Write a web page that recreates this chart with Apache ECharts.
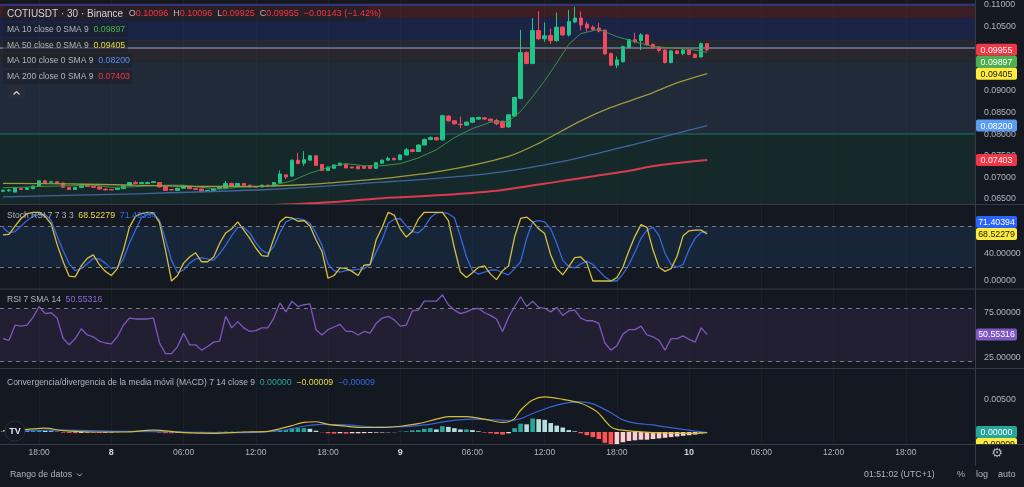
<!DOCTYPE html>
<html>
<head>
<meta charset="utf-8">
<title>COTIUSDT 30 Binance</title>
<script src="https://cdn.jsdelivr.net/npm/echarts@6.0.0/dist/echarts.min.js"></script>
<style>
html,body{margin:0;padding:0;background:#141820;overflow:hidden}
#chart{width:1024px;height:487px}
</style>
</head>
<body>
<div id="chart"></div>
<script>
// ================= DATA =================
const symbolTitle = 'COTIUSDT · 30 · Binance';
const firstSlot = { day: 7, hour: 15 };   // first 30-minute slot on the time axis
const slotCount = 162;                     // slots visible (incl. empty space on the right)

// [open, high, low, close] per 30-min candle
const candles = [
[0.0668,0.0672,0.0666,0.0670],[0.0669,0.0673,0.0667,0.0671],[0.0666,0.0677,0.0665,0.0676],[0.0674,0.0676,0.0671,0.0672],
[0.0672,0.0677,0.0671,0.0676],[0.0674,0.0681,0.0673,0.0680],[0.0679,0.0693,0.0678,0.0692],[0.0692,0.0694,0.0686,0.0687],
[0.0689,0.0691,0.0688,0.0690],[0.0690,0.0691,0.0685,0.0686],[0.0687,0.0688,0.0676,0.0677],[0.0677,0.0678,0.0671,0.0672],
[0.0672,0.0678,0.0671,0.0677],[0.0677,0.0684,0.0676,0.0683],[0.0683,0.0685,0.0678,0.0679],[0.0679,0.0680,0.0676,0.0677],
[0.0678,0.0679,0.0672,0.0673],[0.0673,0.0674,0.0670,0.0671],[0.0672,0.0673,0.0670,0.0671],[0.0672,0.0676,0.0671,0.0675],
[0.0674,0.0682,0.0673,0.0681],[0.0681,0.0689,0.0680,0.0688],[0.0688,0.0692,0.0685,0.0686],[0.0686,0.0690,0.0685,0.0688],
[0.0686,0.0690,0.0685,0.0688],[0.0688,0.0692,0.0687,0.0690],[0.0688,0.0689,0.0677,0.0678],[0.0679,0.0680,0.0669,0.0670],
[0.0672,0.0673,0.0670,0.0671],[0.0670,0.0676,0.0669,0.0675],[0.0675,0.0682,0.0674,0.0681],[0.0679,0.0680,0.0673,0.0674],
[0.0674,0.0675,0.0671,0.0672],[0.0673,0.0674,0.0666,0.0667],[0.0668,0.0671,0.0667,0.0670],[0.0670,0.0675,0.0669,0.0674],
[0.0674,0.0678,0.0673,0.0677],[0.0674,0.0692,0.0673,0.0686],[0.0686,0.0688,0.0678,0.0679],[0.0679,0.0687,0.0678,0.0686],
[0.0686,0.0687,0.0681,0.0682],[0.0682,0.0683,0.0677,0.0678],[0.0679,0.0680,0.0676,0.0677],[0.0678,0.0683,0.0677,0.0682],
[0.0682,0.0683,0.0679,0.0680],[0.0680,0.0689,0.0679,0.0688],[0.0687,0.0716,0.0686,0.0708],[0.0706,0.0707,0.0696,0.0701],
[0.0703,0.0741,0.0702,0.0740],[0.0740,0.0757,0.0731,0.0732],[0.0733,0.0761,0.0727,0.0741],[0.0740,0.0751,0.0739,0.0750],
[0.0750,0.0751,0.0727,0.0728],[0.0730,0.0731,0.0715,0.0716],[0.0716,0.0725,0.0715,0.0724],[0.0721,0.0730,0.0720,0.0729],
[0.0728,0.0734,0.0727,0.0733],[0.0730,0.0731,0.0721,0.0722],[0.0724,0.0725,0.0721,0.0722],[0.0725,0.0726,0.0719,0.0720],
[0.0726,0.0727,0.0720,0.0721],[0.0727,0.0728,0.0720,0.0721],[0.0721,0.0735,0.0720,0.0734],[0.0733,0.0741,0.0732,0.0740],
[0.0740,0.0748,0.0739,0.0744],[0.0744,0.0746,0.0739,0.0741],[0.0741,0.0753,0.0740,0.0752],[0.0752,0.0768,0.0751,0.0764],
[0.0764,0.0766,0.0758,0.0760],[0.0760,0.0776,0.0759,0.0775],[0.0775,0.0790,0.0774,0.0788],[0.0788,0.0795,0.0786,0.0792],
[0.0792,0.0794,0.0785,0.0787],[0.0787,0.0845,0.0785,0.0843],[0.0842,0.0844,0.0829,0.0831],[0.0831,0.0833,0.0822,0.0824],
[0.0823,0.0841,0.0814,0.0822],[0.0821,0.0830,0.0819,0.0828],[0.0828,0.0840,0.0826,0.0838],[0.0835,0.0841,0.0833,0.0839],
[0.0838,0.0840,0.0833,0.0835],[0.0835,0.0837,0.0829,0.0831],[0.0832,0.0836,0.0821,0.0824],[0.0830,0.0832,0.0814,0.0816],
[0.0817,0.0847,0.0815,0.0845],[0.0842,0.0887,0.0840,0.0885],[0.0883,0.1042,0.0881,0.0989],[0.0989,0.0992,0.0962,0.0964],
[0.0964,0.1069,0.0962,0.1040],[0.1040,0.1085,0.1018,0.1021],[0.1021,0.1059,0.1014,0.1028],[0.1029,0.1045,0.1009,0.1017],
[0.1017,0.1082,0.1014,0.1048],[0.1048,0.1050,0.1028,0.1030],[0.1030,0.1088,0.1026,0.1061],[0.1060,0.1095,0.1057,0.1069],
[0.1069,0.1084,0.1041,0.1053],[0.1055,0.1061,0.1038,0.1046],[0.1048,0.1052,0.1040,0.1043],[0.1046,0.1058,0.1036,0.1039],
[0.1041,0.1043,0.0984,0.0986],[0.0987,0.0989,0.0958,0.0960],[0.0960,0.0980,0.0953,0.0972],[0.0968,0.1005,0.0966,0.1003],
[0.1001,0.1021,0.0999,0.1019],[0.1019,0.1035,0.1011,0.1015],[0.1017,0.1034,0.0995,0.1030],[0.1030,0.1032,0.1005,0.1007],
[0.1008,0.1010,0.0998,0.1000],[0.1002,0.1004,0.0990,0.0994],[0.0995,0.0997,0.0964,0.0966],[0.0966,0.0995,0.0964,0.0993],
[0.0993,0.0995,0.0985,0.0987],[0.0987,0.1000,0.0983,0.0995],[0.0995,0.0997,0.0983,0.0985],[0.0985,0.0987,0.0976,0.0978],
[0.0979,0.1012,0.0977,0.10098],[0.10096,0.10096,0.09925,0.09955]
];

// moving averages: [candle index, value]
const ma10 = [[0,0.0676],[3,0.0677],[6,0.0679],[9,0.0680],[12,0.0681],[15,0.0682],[18,0.0677],[21,0.0678],[24,0.0680],[27,0.0682],[30,0.0682],[33,0.0677],[36,0.0673],[39,0.0677],[42,0.0678],[45,0.0682],[48,0.0692],[51,0.0710],[54,0.0723],[57,0.0732],[60,0.0727],[63,0.0727],[66,0.0732],[69,0.0745],[72,0.0764],[75,0.0792],[78,0.0813],[81,0.0828],[84,0.0830],[86,0.0853],[88,0.0887],[90,0.0924],[92,0.0965],[94,0.1008],[96,0.1033],[99,0.1043],[102,0.1026],[105,0.1014],[108,0.1003],[111,0.1000],[114,0.0997],[117,0.09897]];
const ma50 = [[0,0.0686],[11,0.0685],[22,0.0682],[33,0.0679],[44,0.0680],[50,0.0683],[55,0.0688],[63,0.0697],[73,0.0715],[84,0.0749],[89,0.0779],[96,0.0831],[101,0.0862],[107,0.0891],[112,0.0919],[117,0.09405]];
const ma100 = [[0,0.0655],[22,0.0662],[44,0.0672],[63,0.0689],[73,0.0699],[83,0.0713],[93,0.0737],[103,0.0770],[110,0.0795],[117,0.0820]];
const ma200 = [[45,0.0636],[55,0.0643],[63,0.0652],[73,0.0659],[83,0.0671],[93,0.0692],[103,0.0713],[109,0.0728],[117,0.07403]];

// horizontal rectangle drawings on the price pane: [lower, upper]
const zoneRed   = [0.1070, 0.1103];
const zoneBlue  = [0.1018, 0.1070];
const zoneGrey  = [0.0968, 0.1018];
const zoneSlate = [0.0800, 0.0968];
const zoneGreen = [0.0600, 0.0800];

// Stoch RSI 7 7 3 3
const stochK = [67,68,80,91,98,100,100,94,83,53, 28,7,6,22,33,38,24,14,8,18, 45,78,94,98,100,99,85,45,0,8, 26,35,41,28,28,35,55,70,76,86,
74,62,48,37,36,62,86,93,92,87, 88,80,60,43,4,8,19,18,14,8, 23,24,60,78,100,96,76,64,72,90, 100,100,100,100,88,48,13,5,12,20,
22,10,2,15,22,64,91,93,86,76, 69,38,18,9,21,34,35,26,0,0, 0,0,5,20,44,65,82,78,45,20, 14,18,36,66,73,74,74,68.52279];
const stochD = [78,70,72,80,88,94,97,97,88,65, 44,25,15,18,25,33,32,26,18,20, 32,55,74,92,97,98,88,60,30,12, 16,26,32,34,32,30,40,52,66,78,
78,70,56,45,40,50,70,86,90,91, 89,84,70,52,25,15,13,15,16,17, 18,24,42,60,84,90,91,80,72,70, 78,92,99,100,98,92,65,35,15,10,
13,16,16,12,9,18,28,62,86,88, 86,76,55,30,21,19,25,29,24,15, 6,0,0,10,24,42,62,74,78,66, 40,24,20,24,46,62,71,71.40394];
// RSI 7
const rsi = [46,44,61,60,61,70,82,74,75,69, 46,39,46,57,50,48,43,41,40,48, 61,69,68,68,68,69,41,29,29,37, 52,39,39,33,37,42,43,71,58,65,
58,54,55,58,58,69,86,76,88,82, 84,85,56,50,56,59,62,54,54,50, 54,52,63,69,71,67,60,61,77,78, 88,88,88,95,84,78,74,76,79,80,
75,72,68,54,70,82,93,82,88,81, 80,76,81,72,77,78,69,66,66,63, 41,33,38,51,56,56,60,50,48,44, 33,46,46,49,45,42,58,50.55316];
// MACD 7 14 9
const macdHist = [0.0001,0.00012,0.00015,0.00012,0.0001,0.00015,0.0002,0.00018,0.00012,0.00005,
-0.0001,-0.00015,-0.00018,-0.00015,-0.0001,-0.00012,-0.00015,-0.00012,-0.00008,-0.00003,
0.00005,0.0001,0.00008,0.00005,0.00006,0.00004,-0.0001,-0.00018,-0.0002,-0.00015,
-0.0001,-0.00008,-0.0001,-0.00008,-0.00006,-0.00003,0.00004,0.00006,0.00003,0.00004,
0.00002,-0.00001,-0.00002,0.00001,0.00003,0.0001,0.0003,0.0003,0.0006,0.0006,
0.0006,0.0005,0.0002,-0.00005,-0.0002,-0.00025,-0.0002,-0.00025,-0.0002,-0.0002,
-0.00018,-0.00015,-0.0001,-0.00008,-0.00005,-0.00003,0.00005,0.0001,0.00025,0.0003,
0.0005,0.0006,0.0004,0.0009,0.0008,0.0006,0.0004,0.0004,0.0003,0.0001,
-0.0001,-0.0002,-0.0003,-0.0004,-0.0002,0.0006,0.0013,0.0012,0.0021,0.0020,
0.0019,0.0014,0.0010,0.0007,0.0003,0.0001,-0.0002,-0.0005,-0.0008,-0.0011,
-0.0017,-0.0022,-0.0020,-0.0016,-0.0014,-0.0013,-0.0012,-0.0012,-0.0011,-0.0010,
-0.0009,-0.0008,-0.0007,-0.0006,-0.0005,-0.0004,-0.0002,0.0];
const macdLine = [[0,0.0002],[4,0.0004],[7,0.0006],[10,0.0002],[15,0.0000],[20,0.0000],[25,0.0003],[30,-0.0001],[35,-0.0002],[40,0.0000],[44,0.0001],[46,0.0005],[48,0.0010],[50,0.0015],[52,0.0016],[54,0.0012],[57,0.0009],[60,0.0007],[63,0.0007],[66,0.0009],[69,0.0013],[72,0.0020],[74,0.0024],[77,0.0024],[80,0.0020],[83,0.0015],[84,0.0016],[85,0.0021],[86,0.0034],[88,0.0050],[90,0.0055],[93,0.0051],[96,0.0045],[98,0.0036],[99,0.0029],[100,0.0018],[101,0.0008],[102,0.0004],[105,0.0001],[108,-0.0001],[112,-0.0002],[115,-0.0002],[117,-0.00009]];
const signalLine = [[0,0.0002],[10,0.0003],[20,0.0001],[30,0.0000],[40,-0.0001],[46,0.0002],[50,0.0009],[53,0.0012],[57,0.0011],[62,0.0008],[66,0.0008],[70,0.0011],[74,0.0017],[78,0.0020],[82,0.0019],[84,0.0018],[86,0.0021],[88,0.0029],[90,0.0036],[92,0.0042],[94,0.0046],[96,0.0047],[98,0.0044],[99,0.0040],[101,0.0030],[103,0.0019],[105,0.0014],[108,0.0011],[110,0.0008],[113,0.0004],[117,-0.00009]];

// axis tick labels
const priceTicks = [0.065,0.070,0.075,0.080,0.085,0.090,0.105,0.110];
const stochTicks = [0, 40];
const rsiTicks = [25, 75];
const macdTicks = [0.005];
const clockText = '01:51:02 (UTC+1)';

// ================= BUILD =================
const FONT = '"Liberation Sans", Arial, sans-serif';
const GREY = '#b2b5be';
const UP = '#1fc488', DOWN = '#f2495e';
const last = a => { const v = a[a.length - 1]; return Array.isArray(v) ? v[1] : v; };
const fmt = v => v.toFixed(5).replace('-', '\u2212');

const slots = [];
for (let i = 0; i < slotCount; i++) {
  const mins = firstSlot.hour * 60 + i * 30;
  const day = firstSlot.day + Math.floor(mins / 1440);
  const m = mins % 1440;
  slots.push(day + ' ' + String(Math.floor(m / 60)).padStart(2, '0') + ':' + String(m % 60).padStart(2, '0'));
}
const isMajor = (idx, val) => { const t = slots[idx].split(' ')[1]; return t.endsWith(':00') && parseInt(t) % 6 === 0; };

const lastC = candles[candles.length - 1];
const prevClose = candles[candles.length - 2][3];
const chg = lastC[3] - prevClose;

const grids = [
  { left: -2, right: 49, top: 0, height: 204 },
  { left: -2, right: 49, top: 205, height: 84 },
  { left: -2, right: 49, top: 289, height: 79 },
  { left: -2, right: 49, top: 369, height: 75 }
];
const yRanges = [[0.063842, 0.111088], [-11.64, 110.63], [12.9, 101.7], [-0.001875, 0.0098438]];
const yTicks = [priceTicks, stochTicks, rsiTicks, macdTicks];

const xAxes = grids.map((g, gi) => ({
  type: 'category', gridIndex: gi, data: slots, boundaryGap: true,
  axisLine: { show: false }, axisTick: { show: false },
  splitLine: { show: true, interval: isMajor, alignWithLabel: true, lineStyle: { color: 'rgba(255,255,255,0.035)', width: 1 } },
  axisLabel: gi === 3 ? {
    show: true, interval: isMajor, margin: 4, color: GREY, fontSize: 8.5, fontFamily: FONT,
    formatter: v => { const p = v.split(' '); return p[1] === '00:00' ? '{d|' + p[0] + '}' : p[1]; },
    rich: { d: { fontWeight: 'bold', color: '#d1d4dc', fontSize: 9, fontFamily: FONT } }
  } : { show: false }
}));
const yAxes = grids.map((g, gi) => ({
  type: 'value', gridIndex: gi, position: 'right', min: yRanges[gi][0], max: yRanges[gi][1],
  axisLine: { show: false }, axisTick: { show: false }, splitLine: { show: false },
  axisLabel: { show: true, customValues: yTicks[gi], formatter: v => fmt(v), color: GREY, fontSize: 8.8, fontFamily: FONT, margin: 9 }
}));

function tagSeries(gi, tags) {
  const H = 12;
  return {
    type: 'custom', xAxisIndex: gi, yAxisIndex: gi, z: 30, silent: true, clip: false,
    data: tags.map(t => [0, t.v]),
    renderItem(params, api) {
      const cs = params.coordSys;
      const placed = [];
      tags.forEach(t => {
        const want = api.coord([0, t.v])[1];
        const cands = [want];
        placed.forEach(p => cands.push(p - H, p + H));
        cands.sort((a, b) => Math.abs(a - want) - Math.abs(b - want));
        placed.push(cands.find(c => placed.every(p => Math.abs(p - c) >= H - 0.01)));
      });
      const t = tags[params.dataIndex], y = placed[params.dataIndex];
      const x0 = cs.x + cs.width + 1;
      return {
        type: 'group',
        clipPath: { type: 'rect', shape: { x: x0 - 2, y: cs.y, width: 60, height: cs.height + 1 } },
        children: [
          { type: 'rect', shape: { x: x0, y: y - H / 2, width: 41, height: H, r: 2 }, style: { fill: t.bg } },
          { type: 'text', style: { text: fmt(t.v), x: x0 + 20.5, y: y + 0.5, align: 'center', verticalAlign: 'middle', fill: t.fg, font: '8.8px ' + FONT } }
        ]
      };
    }
  };
}

function histColor(i) {
  const v = macdHist[i], p = i > 0 ? macdHist[i - 1] : 0;
  if (v >= 0) return v >= p ? '#26a69a' : '#b2dfdb';
  return v < p ? '#ff5252' : '#ffcdd2';
}
const dash = (v, c) => ({ yAxis: v, lineStyle: { color: c || '#787b86', type: [4, 4], width: 1 } });

const series = [
  // price-pane drawings
  { type: 'line', xAxisIndex: 0, yAxisIndex: 0, data: [], silent: true,
    markArea: { silent: true, data: [
      [{ yAxis: zoneRed[0], itemStyle: { color: 'rgba(100,36,44,0.5)' } }, { yAxis: zoneRed[1] }],
      [{ yAxis: zoneBlue[0], itemStyle: { color: 'rgba(34,48,104,0.5)' } }, { yAxis: zoneBlue[1] }],
      [{ yAxis: zoneGrey[0], itemStyle: { color: 'rgba(56,56,60,0.5)' } }, { yAxis: zoneGrey[1] }],
      [{ yAxis: zoneSlate[0], itemStyle: { color: 'rgba(44,60,82,0.5)' } }, { yAxis: zoneSlate[1] }],
      [{ yAxis: zoneGreen[0], itemStyle: { color: 'rgba(22,58,52,0.5)' } }, { yAxis: zoneGreen[1] }]
    ] },
    markLine: { silent: true, symbol: 'none', label: { show: false }, z: 1, data: [
      { yAxis: zoneBlue[1], lineStyle: { color: '#2b3f98', width: 1.5, type: 'solid' } },
      { yAxis: zoneGrey[1], lineStyle: { color: '#60636c', width: 1.5, type: 'solid' } },
      { yAxis: zoneSlate[1], lineStyle: { color: '#4a73a6', width: 1.5, type: 'solid' } },
      { yAxis: zoneGreen[1], lineStyle: { color: '#1e5d55', width: 1.5, type: 'solid' } }
    ] } },
  { type: 'candlestick', xAxisIndex: 0, yAxisIndex: 0, z: 3, barWidth: 4,
    data: candles.map(c => [c[0], c[3], c[2], c[1]]),
    itemStyle: { color: UP, color0: DOWN, borderColor: UP, borderColor0: DOWN, borderWidth: 1 },
    markLine: { silent: true, symbol: 'none', label: { show: false }, data: [
      { yAxis: lastC[3], lineStyle: { color: 'rgba(242,54,69,0.75)', type: [1, 2], width: 1 } }
    ] } },
  { type: 'line', xAxisIndex: 0, yAxisIndex: 0, z: 4, data: ma10, showSymbol: false, silent: true, lineStyle: { color: '#3f8f4b', width: 1 } },
  { type: 'line', xAxisIndex: 0, yAxisIndex: 0, z: 4, data: ma50, showSymbol: false, silent: true, smooth: 0.3, lineStyle: { color: '#9e9a3c', width: 1.3 } },
  { type: 'line', xAxisIndex: 0, yAxisIndex: 0, z: 4, data: ma100, showSymbol: false, silent: true, smooth: 0.3, lineStyle: { color: '#3f64a0', width: 1.3 } },
  { type: 'line', xAxisIndex: 0, yAxisIndex: 0, z: 4, data: ma200, showSymbol: false, silent: true, smooth: 0.3, lineStyle: { color: '#dc3a50', width: 2 } },
  tagSeries(0, [
    { v: lastC[3], bg: '#f23645', fg: '#ffffff' },
    { v: last(ma10), bg: '#4caf50', fg: '#ffffff' },
    { v: last(ma50), bg: '#ffeb3b', fg: '#131722' },
    { v: last(ma100), bg: '#5b9cf6', fg: '#ffffff' },
    { v: last(ma200), bg: '#f23645', fg: '#ffffff' }
  ]),
  // Stoch RSI
  { type: 'line', xAxisIndex: 1, yAxisIndex: 1, data: stochD, showSymbol: false, silent: true, z: 3, lineStyle: { color: '#3468e0', width: 1.3 },
    markArea: { silent: true, data: [[{ yAxis: 20, itemStyle: { color: 'rgba(26,50,82,0.5)' } }, { yAxis: 80 }]] },
    markLine: { silent: true, symbol: 'none', label: { show: false }, data: [dash(80), dash(20)] } },
  { type: 'line', xAxisIndex: 1, yAxisIndex: 1, data: stochK, showSymbol: false, silent: true, z: 4, lineStyle: { color: '#d6c13c', width: 1.3 } },
  tagSeries(1, [
    { v: last(stochK), bg: '#ffeb3b', fg: '#131722' },
    { v: last(stochD), bg: '#2962ff', fg: '#ffffff' }
  ]),
  // RSI
  { type: 'line', xAxisIndex: 2, yAxisIndex: 2, data: rsi, showSymbol: false, silent: true, z: 3, lineStyle: { color: '#7e57c2', width: 1.3 },
    markArea: { silent: true, data: [[{ yAxis: 20, itemStyle: { color: 'rgba(46,38,66,0.5)' } }, { yAxis: 80 }]] },
    markLine: { silent: true, symbol: 'none', label: { show: false }, data: [dash(80), dash(20)] } },
  tagSeries(2, [{ v: last(rsi), bg: '#7e57c2', fg: '#ffffff' }]),
  // MACD
  { type: 'bar', xAxisIndex: 3, yAxisIndex: 3, barWidth: 4.6, silent: true, z: 2,
    data: macdHist.map((v, i) => ({ value: v, itemStyle: { color: histColor(i) } })) },
  { type: 'line', xAxisIndex: 3, yAxisIndex: 3, data: macdLine, showSymbol: false, silent: true, z: 4, smooth: 0.3, lineStyle: { color: '#d3bd3b', width: 1.2 } },
  { type: 'line', xAxisIndex: 3, yAxisIndex: 3, data: signalLine, showSymbol: false, silent: true, z: 3, smooth: 0.3, lineStyle: { color: '#3563d9', width: 1.2 } },
  tagSeries(3, [
    { v: last(macdHist), bg: '#26a69a', fg: '#ffffff' },
    { v: last(macdLine), bg: '#ffeb3b', fg: '#131722' }
  ])
];

// ---------- overlay text (legends, separators, footer) ----------
const SEP = '#363a45';
const hline = y => ({ type: 'line', z: 50, shape: { x1: 0, y1: y, x2: 1024, y2: y }, style: { stroke: SEP, lineWidth: 1 } });
const rowBg = (x, y, w, h) => ({ type: 'rect', z: 60, shape: { x, y, width: w, height: h, r: 2 }, style: { fill: 'rgba(28,31,40,0.55)' } });
const rtext = (x, y, text, rich, size, color) => ({ type: 'text', z: 61, x, y,
  style: { text, rich, font: size + 'px ' + FONT, fill: color || GREY, verticalAlign: 'middle', align: 'left' } });
const R = (c, s) => ({ fill: c, fontSize: s, fontFamily: FONT });

const maRows = [
  { label: 'MA 10 close 0 SMA 9', value: last(ma10), color: '#4caf50', y: 30 },
  { label: 'MA 50 close 0 SMA 9', value: last(ma50), color: '#e8d94a', y: 45.5 },
  { label: 'MA 100 close 0 SMA 9', value: last(ma100), color: '#5b8def', y: 61 },
  { label: 'MA 200 close 0 SMA 9', value: last(ma200), color: '#f23645', y: 77 }
];

const graphics = [
  hline(204.5), hline(289), hline(368.5), hline(444.5),
  { type: 'line', z: 50, shape: { x1: 975.5, y1: 0, x2: 975.5, y2: 466 }, style: { stroke: SEP, lineWidth: 1 } },
  rowBg(3, 6.5, 364, 15),
  rtext(7, 14, '{t|' + symbolTitle + '}{t|  }{l|O}{r|' + fmt(lastC[0]) + '}  {l|H}{r|' + fmt(lastC[1]) + '}  {l|L}{r|' + fmt(lastC[2]) + '}  {l|C}{r|' + fmt(lastC[3]) + '}  {r|' + fmt(chg) + ' (' + (chg / prevClose * 100).toFixed(2).replace('-', '\u2212') + '%)}',
    { t: R('#d1d4dc', 10), l: R(GREY, 9), r: R('#f23645', 9) }, 9)
];
maRows.forEach(r => {
  graphics.push(rowBg(3, r.y - 7, r.label.length > 19 ? 129 : 125, 14));
  graphics.push(rtext(7, r.y, '{l|' + r.label + '}{l|  }{v|' + fmt(r.value) + '}', { l: R(GREY, 8.5), v: R(r.color, 8.8) }, 8.5));
});
graphics.push(
  { type: 'rect', z: 60, shape: { x: 8, y: 86, width: 17, height: 13, r: 2 }, style: { fill: 'rgba(42,46,57,0.9)' } },
  { type: 'polyline', z: 61, shape: { points: [[13.5, 94.5], [16.5, 91.5], [19.5, 94.5]] }, style: { stroke: '#d1d4dc', lineWidth: 1.2, fill: null } },
  rtext(7, 216, '{l|Stoch RSI 7 7 3 3}{l|  }{k|' + fmt(last(stochK)) + '}{l|  }{d|' + fmt(last(stochD)) + '}',
    { l: R(GREY, 8.5), k: R('#e8d94a', 8.8), d: R('#2f6bf0', 8.8) }, 8.5),
  rtext(7, 300, '{l|RSI 7 SMA 14}{l|  }{v|' + fmt(last(rsi)) + '}', { l: R(GREY, 8.5), v: R('#8f6ad6', 8.8) }, 8.5),
  rtext(7, 383, '{l|Convergencia/divergencia de la media m\u00f3vil (MACD) 7 14 close 9}{l|  }{h|' + fmt(last(macdHist)) + '}{l|  }{m|' + fmt(last(macdLine)) + '}{l|  }{s|' + fmt(last(signalLine)) + '}',
    { l: R(GREY, 8.5), h: R('#26a69a', 8.8), m: R('#e8d94a', 8.8), s: R('#2f6bf0', 8.8) }, 8.5),
  // TradingView badge
  { type: 'circle', z: 62, shape: { cx: 15, cy: 431, r: 10 }, style: { fill: '#131722', stroke: '#2a2e39', lineWidth: 1 } },
  { type: 'text', z: 63, x: 15, y: 431.5, style: { text: 'TV', font: 'bold 9px ' + FONT, fill: '#e0e3eb', align: 'center', verticalAlign: 'middle' } },
  // footer
  rtext(10, 475, 'Rango de datos', null, 8.8, GREY),
  { type: 'polyline', z: 61, shape: { points: [[77, 473.5], [79.5, 476], [82, 473.5]] }, style: { stroke: GREY, lineWidth: 1, fill: null } },
  rtext(864, 475, clockText, null, 8.8, GREY),
  rtext(957, 475, '%', null, 9, GREY),
  rtext(976, 475, 'log', null, 9, GREY),
  rtext(998, 475, 'auto', null, 9, GREY),
  { type: 'text', z: 61, x: 997, y: 453.5, style: { text: '\u2699', font: '13px "DejaVu Sans"', fill: GREY, align: 'center', verticalAlign: 'middle' } }
);

const chart = echarts.init(document.getElementById('chart'), null, { renderer: 'canvas' });
chart.setOption({
  backgroundColor: '#141820',
  animation: false,
  grid: grids,
  xAxis: xAxes,
  yAxis: yAxes,
  series: series,
  graphic: graphics
});
</script>
</body>
</html>
